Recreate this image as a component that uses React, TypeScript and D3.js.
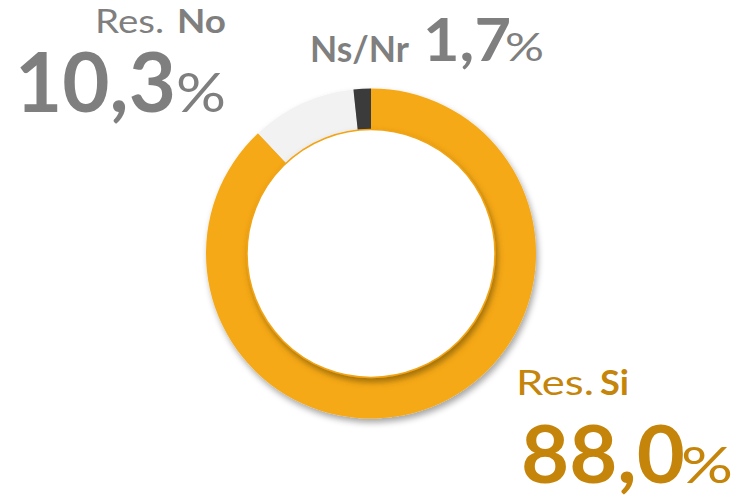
import React from "react";
import * as d3 from "d3";

const categories = ["Res. Si", "Res. No", "Ns/Nr"];
const values = [88.0, 10.3, 1.7];
const sliceColors = ["#F6A917", "#F2F2F2", "#3A3A3A"];

const W = 735;
const H = 497;
const cx = 371;
const cy = 253.5;
const outerR = 165;
const innerR = 121;
const holeR = 124;

const fmt = (v: number) => v.toFixed(1).replace(".", ",");
const FONT = "Lato, 'Open Sans', sans-serif";

type Piece = {
  text: string;
  x: number;
  y: number;
  len: number;
  size: number;
  weight: number;
  color: string;
};

export default function App() {
  const pie = d3
    .pie<number>()
    .sort(null)
    .startAngle(0)
    .endAngle(2 * Math.PI)
    .value((d) => d);
  const arcs = pie(values);
  const arc = d3.arc<d3.PieArcDatum<number>>().innerRadius(innerR).outerRadius(outerR);

  const gray = "#7F7F7F";
  const gold = "#C5850A";

  const [siPre, siMain] = categories[0].split(" ");
  const [noPre, noMain] = categories[1].split(" ");

  const pieces: Piece[] = [
    { text: noPre, x: 95, y: 33, len: 69, size: 32, weight: 400, color: gray },
    { text: noMain, x: 177, y: 33, len: 49, size: 32, weight: 700, color: gray },
    { text: fmt(values[1]), x: 15, y: 112, len: 161, size: 83, weight: 700, color: gray },
    { text: "%", x: 176, y: 112, len: 50, size: 54, weight: 400, color: gray },
    { text: categories[2], x: 310, y: 62, len: 99, size: 37, weight: 700, color: gray },
    { text: fmt(values[2]), x: 423, y: 61, len: 88, size: 60, weight: 700, color: gray },
    { text: "%", x: 505, y: 61, len: 39, size: 38, weight: 400, color: gray },
    { text: siPre, x: 516, y: 395, len: 78, size: 35, weight: 400, color: gold },
    { text: siMain, x: 600, y: 395, len: 29, size: 35, weight: 700, color: gold },
    { text: fmt(values[0]), x: 521, y: 483, len: 164, size: 80, weight: 700, color: gold },
    { text: "%", x: 681, y: 483, len: 52, size: 50, weight: 400, color: gold },
  ];

  return (
    <svg
      width={W}
      height={H}
      style={{ position: "absolute", left: 0, top: 0, background: "#fff" }}
      fontFamily={FONT}
    >
      <defs>
        <filter id="ringShadow" x="-20%" y="-20%" width="140%" height="140%">
          <feDropShadow dx="2" dy="4" stdDeviation="3" floodColor="#000" floodOpacity="0.35" />
        </filter>
        <filter id="holeShadow" x="-20%" y="-20%" width="140%" height="140%">
          <feDropShadow dx="2" dy="4" stdDeviation="3" floodColor="#5a3c00" floodOpacity="0.55" />
        </filter>
      </defs>

      <g transform={`translate(${cx},${cy})`}>
        <g filter="url(#ringShadow)">
          {arcs.map((a, i) => (
            <path key={categories[i]} d={arc(a) || ""} fill={sliceColors[i]} />
          ))}
        </g>
        <circle r={holeR} fill="#fff" stroke="#F2A414" strokeWidth={1.5} filter="url(#holeShadow)" />
      </g>

      {pieces.map((p, i) => (
        <text
          key={i}
          x={p.x}
          y={p.y}
          fill={p.color}
          fontSize={p.size}
          fontWeight={p.weight}
          textLength={p.len}
          lengthAdjust="spacingAndGlyphs"
        >
          {p.text}
        </text>
      ))}
    </svg>
  );
}
